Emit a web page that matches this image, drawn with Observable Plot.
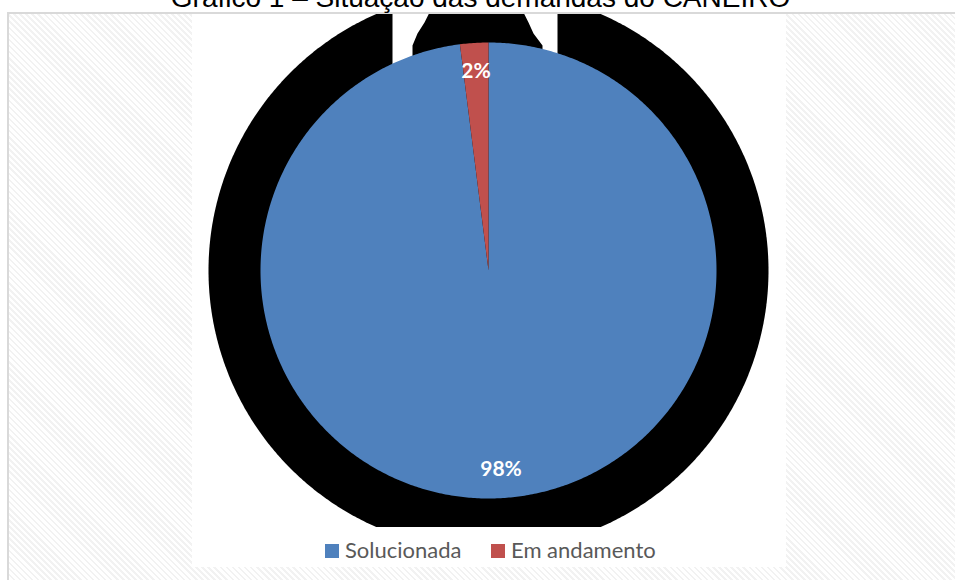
<!DOCTYPE html>
<html><head><meta charset="utf-8">
<script src="https://cdn.jsdelivr.net/npm/d3@7"></script>
<script src="https://cdn.jsdelivr.net/npm/@observablehq/plot@0.6"></script>
<style>
html,body{margin:0;padding:0;background:#fff;}
body{width:955px;height:580px;overflow:hidden;position:relative;}
#bg{position:absolute;left:7px;top:12px;width:948px;height:568px;border-left:2px solid #d9d9d9;border-top:2px solid #d9d9d9;
 background:repeating-linear-gradient(45deg,#f2f2f2 0px,#f2f2f2 1.8px,#ffffff 1.8px,#ffffff 4.3px);}
#panel{position:absolute;left:192px;top:14px;width:594px;height:553px;background:#fff;}
#title{position:absolute;left:3px;width:955px;text-align:center;top:-18px;line-height:32px;font:28px "Liberation Sans",Arial,sans-serif;color:#000;white-space:nowrap;}
#chart{position:absolute;left:0;top:14px;}
#legend{position:absolute;top:536px;left:325px;width:500px;height:30px;font:22px Lato,"Open Sans",sans-serif;color:#595959;white-space:nowrap;}
#legend span.item{position:absolute;top:0;}
#legend span.sw{display:inline-block;width:14px;height:14px;margin-right:6px;vertical-align:0px;}
</style></head>
<body>
<div id="bg"></div>
<div id="panel"></div>
<div id="title"></div>
<div id="chart"></div>
<div id="legend"></div>
<script>
// ---- data ----
const titleText = "Gráfico 1 – Situação das demandas do CANEIRO";
const categories = ["Solucionada", "Em andamento"];
const values = [98, 2];
const valueLabels = ["98%", "2%"];
const colors = ["#4f81bd", "#c0504d"];

const data = categories.map((c, i) => ({category: c, value: values[i], label: valueLabels[i]}));

// ---- layout (pixels) ----
const W = 955, H = 513;          // svg size (clipped band of the shadow)
const cx = 488, cy = 256, R = 228; // pie centre / radius in svg px
const shadowR = 280 / R;

// pie geometry from the data (d3.pie: angle 0 = 12 o'clock, clockwise)
const arcs = d3.pie().sort(null).value(d => d.value)(data);
function arcPolygon(a0, a1, r, withCentre) {
  const pts = [];
  if (withCentre) pts.push([0, 0]);
  const n = Math.max(2, Math.ceil((a1 - a0) / (Math.PI / 360)));
  for (let k = 0; k <= n; k++) {
    const a = a0 + (a1 - a0) * k / n;
    pts.push([r * Math.sin(a), r * Math.cos(a)]);
  }
  return pts;
}
const slicePts = arcs.flatMap(a =>
  arcPolygon(a.startAngle, a.endAngle, 1, true).map(([x, y]) => ({x, y, category: a.data.category})));
const ringPts = arcPolygon(0, 2 * Math.PI, shadowR, false).map(([x, y]) => ({x, y}));
const labelPts = arcs.map(a => {
  const m = (a.startAngle + a.endAngle) / 2, r = 0.875;
  return {x: r * Math.sin(m), y: r * Math.cos(m), label: a.data.label};
});

// white notches in the dark shadow above the pie (pixel outlines -> data units)
const px = (x, y) => ({x: (x - cx) / R, y: (cy - (y - 14)) / R});
const gapLeft = [px(392, 12), px(429, 12), px(424, 22), px(417, 33), px(412, 45), px(412, 75), px(392, 75)];
const gapRight = [px(523, 12), px(557, 12), px(557, 75), px(542, 75), px(542, 45), px(533, 33), px(528, 22)];

const xDomain = [(0 - cx) / R, (W - cx) / R];
const yDomain = [(cy - H) / R, cy / R];

const plot = Plot.plot({
  width: W, height: H,
  margin: 0,
  x: {domain: xDomain, axis: null},
  y: {domain: yDomain, axis: null},
  color: {domain: categories, range: colors},
  style: {background: "transparent"},
  marks: [
    Plot.line(ringPts, {x: "x", y: "y", fill: "black", stroke: "none", curve: "linear-closed", clip: true}),
    Plot.line(gapLeft, {x: "x", y: "y", fill: "white", stroke: "none", curve: "linear-closed", clip: true}),
    Plot.line(gapRight, {x: "x", y: "y", fill: "white", stroke: "none", curve: "linear-closed", clip: true}),
    Plot.line(slicePts, {x: "x", y: "y", z: "category", fill: "category", stroke: "none", curve: "linear-closed"}),
    Plot.text(labelPts, {x: "x", y: "y", text: "label", fill: "white", fontSize: 21, fontWeight: "bold",
      fontFamily: "Lato, 'Open Sans', sans-serif"})
  ]
});
document.getElementById("chart").appendChild(plot);

document.getElementById("title").textContent = titleText;
const legend = document.getElementById("legend");
const itemLeft = [0, 166];
categories.forEach((c, i) => {
  const item = document.createElement("span");
  item.className = "item";
  item.style.left = itemLeft[i] + "px";
  const sw = document.createElement("span");
  sw.className = "sw";
  sw.style.background = colors[i];
  item.appendChild(sw);
  item.appendChild(document.createTextNode(c));
  legend.appendChild(item);
});
</script>
</body></html>
